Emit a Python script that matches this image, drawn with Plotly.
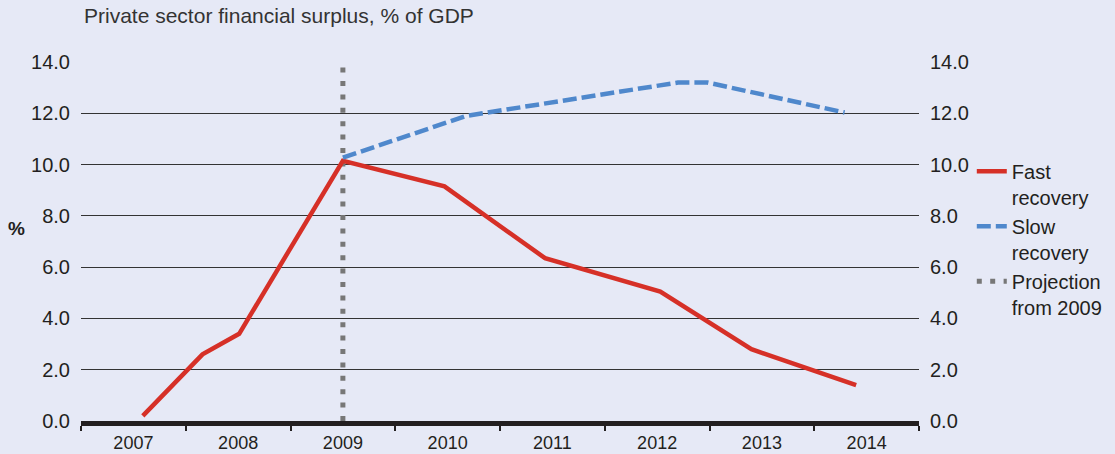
import plotly.graph_objects as go

# ---- data -------------------------------------------------------------
years = [2007, 2008, 2009, 2010, 2011, 2012, 2013, 2014]
year_labels = ["2007", "2008", "2009", "2010", "2011", "2012", "2013", "2014"]
year_bounds = [2006.5, 2007.5, 2008.5, 2009.5, 2010.5, 2011.5, 2012.5, 2013.5, 2014.5]

fast_x = [2007.09, 2007.66, 2008.01, 2009.0, 2009.97, 2010.93, 2012.03, 2012.90, 2013.90]
fast_y = [0.2, 2.6, 3.4, 10.15, 9.15, 6.35, 5.05, 2.8, 1.4]

slow_x = [2009.0, 2010.18, 2012.2, 2012.48, 2013.79]
slow_y = [10.27, 11.9, 13.2, 13.2, 12.03]

proj_x = [2009.0, 2009.0]
proj_y = [0.0, 14.0]

y_ticks = [0, 2, 4, 6, 8, 10, 12, 14]
y_ticklabels = ["0.0", "2.0", "4.0", "6.0", "8.0", "10.0", "12.0", "14.0"]

title_text = "Private sector financial surplus, % of GDP"
y_unit = "%"

# ---- style ------------------------------------------------------------
BG = "#E6E9F6"
FONT = "Liberation Sans, Arial, Helvetica, sans-serif"
TXT = "#231F20"
RED = "#D63027"
BLUE = "#4F88CC"
GREY = "#777777"

fig = go.Figure()

fig.add_trace(go.Scatter(
    x=proj_x, y=proj_y, mode="lines", name="Projection<br>from 2009",
    line=dict(color=GREY, width=5, dash="5px,8.4px"), legendrank=3,
    xaxis="x", yaxis="y",
))
fig.add_trace(go.Scatter(
    x=fast_x, y=fast_y, mode="lines", name="Fast<br>recovery",
    line=dict(color=RED, width=4.5), legendrank=1,
    xaxis="x2", yaxis="y2",
))
fig.add_trace(go.Scatter(
    x=slow_x, y=slow_y, mode="lines", name="Slow<br>recovery",
    line=dict(color=BLUE, width=4.5, dash="14px,5px"), legendrank=2,
    xaxis="x2", yaxis="y2",
))

xrange = [year_bounds[0], year_bounds[-1]]

fig.update_layout(
    width=1115, height=454,
    margin=dict(l=81, r=196, t=62, b=33, autoexpand=False),
    paper_bgcolor=BG, plot_bgcolor=BG,
    font=dict(family=FONT, color=TXT, size=20),
    title=dict(
        text=title_text, xref="container", yref="container",
        x=84 / 1115, xanchor="left", y=1 - 16 / 454, yanchor="middle",
        font=dict(size=21, color="#333333", family=FONT),
    ),
    xaxis=dict(
        range=xrange, tickvals=years, ticktext=year_labels,
        ticks="", showgrid=False, zeroline=False, showline=False,
        tickfont=dict(size=18, color=TXT), ticklabelstandoff=9,
        automargin=False,
    ),
    xaxis2=dict(
        overlaying="x", anchor="y2", side="bottom", range=xrange,
        tickvals=year_bounds, showticklabels=False,
        ticks="outside", ticklen=5, tickwidth=1.5, tickcolor=TXT,
        showline=True, linewidth=5, linecolor=TXT,
        showgrid=False, zeroline=False, automargin=False,
    ),
    yaxis=dict(
        range=[0, 14], tickvals=y_ticks, ticktext=y_ticklabels,
        showgrid=True, gridcolor="#333333", gridwidth=1.2,
        zeroline=False, showline=False, ticks="",
        tickfont=dict(size=20, color=TXT), ticklabelstandoff=10,
        automargin=False,
    ),
    yaxis2=dict(
        overlaying="y", side="right", anchor="x2", range=[0, 14],
        tickvals=y_ticks, ticktext=y_ticklabels,
        showgrid=False, zeroline=False, showline=False, ticks="",
        tickfont=dict(size=20, color=TXT), ticklabelstandoff=10,
        automargin=False,
    ),
    showlegend=True,
    legend=dict(
        x=1.063, xanchor="left", y=0.75, yanchor="top", valign="top",
        font=dict(size=20, color=TXT, family=FONT),
        bgcolor="rgba(0,0,0,0)", borderwidth=0, tracegroupgap=0,
        itemwidth=30,
    ),
    annotations=[dict(
        text="<b>" + y_unit + "</b>", xref="paper", yref="paper",
        x=(16 - 81) / 838, y=(421 - 228) / 359, xanchor="center", yanchor="middle",
        showarrow=False, font=dict(size=19, color=TXT, family=FONT),
    )],
)

fig.write_html(
    "out.html",
    config={"displayModeBar": False},
    post_script="document.body.style.margin='0';document.body.style.padding='0';"
                "document.body.style.background='" + BG + "';",
)
